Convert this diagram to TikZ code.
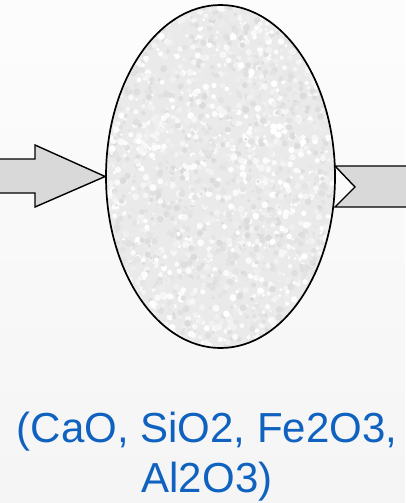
\documentclass[tikz,border=0pt]{standalone}
\usepackage{fontspec}
\setmainfont{Liberation Sans}
\usetikzlibrary{shapes.geometric}

\definecolor{arrowgray}{HTML}{D9D9D9}
\definecolor{labelblue}{RGB}{16,98,192}
\definecolor{stonebase}{HTML}{EAEAEA}

\tikzset{
  flowarrow/.style={draw=black, line width=1.4pt, fill=arrowgray, line join=miter},
  vessel/.style={ellipse, draw=black, line width=1.7pt, inner sep=0pt,
    minimum width=229pt, minimum height=343pt, fill=stonebase,
    path picture={
      % mottled stone texture, coordinates relative to the vessel centre
      \pgfmathsetseed{11}
      \foreach \k in {1,...,2600}{
        \pgfmathsetmacro{\px}{116*rand}
        \pgfmathsetmacro{\py}{173*rand}
        \pgfmathsetmacro{\shade}{int(15*rnd)}
        \pgfmathsetmacro{\rad}{1.4+2.2*rnd}
        \fill[black!\shade] (\px pt,\py pt) circle[radius=\rad pt];
      }
    }},
  oxides/.style={text=labelblue, font=\fontsize{42}{50}\selectfont, inner sep=0pt}
}

\begin{document}
\begin{tikzpicture}[x=1pt, y=-1pt]
  % page background
  \shade[top color=white!99!black, bottom color=white!96!black]
    (0,0) rectangle (405,503);
  \useasboundingbox (0,0) rectangle (405,503);

  % outgoing arrow with notched tail (drawn first, the vessel covers its start)
  \coordinate (outend) at (412,187);
  \draw[flowarrow] (335,166) -- (412,166) -- (412,207) -- (335,207) -- (355,187) -- cycle;

  % the vessel
  \node[vessel] (kiln) at (220.5,176.5) {};

  % incoming block arrow pointing at the vessel
  \coordinate (instart) at (-8,176.5);
  \draw[flowarrow] (kiln.west) -- (35,145) -- (35,159) -- (-8,159)
    -- (-8,193) -- (35,193) -- (35,207) -- cycle;

  % oxide list
  \node[oxides, anchor=base] (oxlist1) at (207,442) {(CaO, SiO2, Fe2O3,};
  \node[oxides, anchor=base] (oxlist2) at (207,492) {Al2O3)};
\end{tikzpicture}
\end{document}
